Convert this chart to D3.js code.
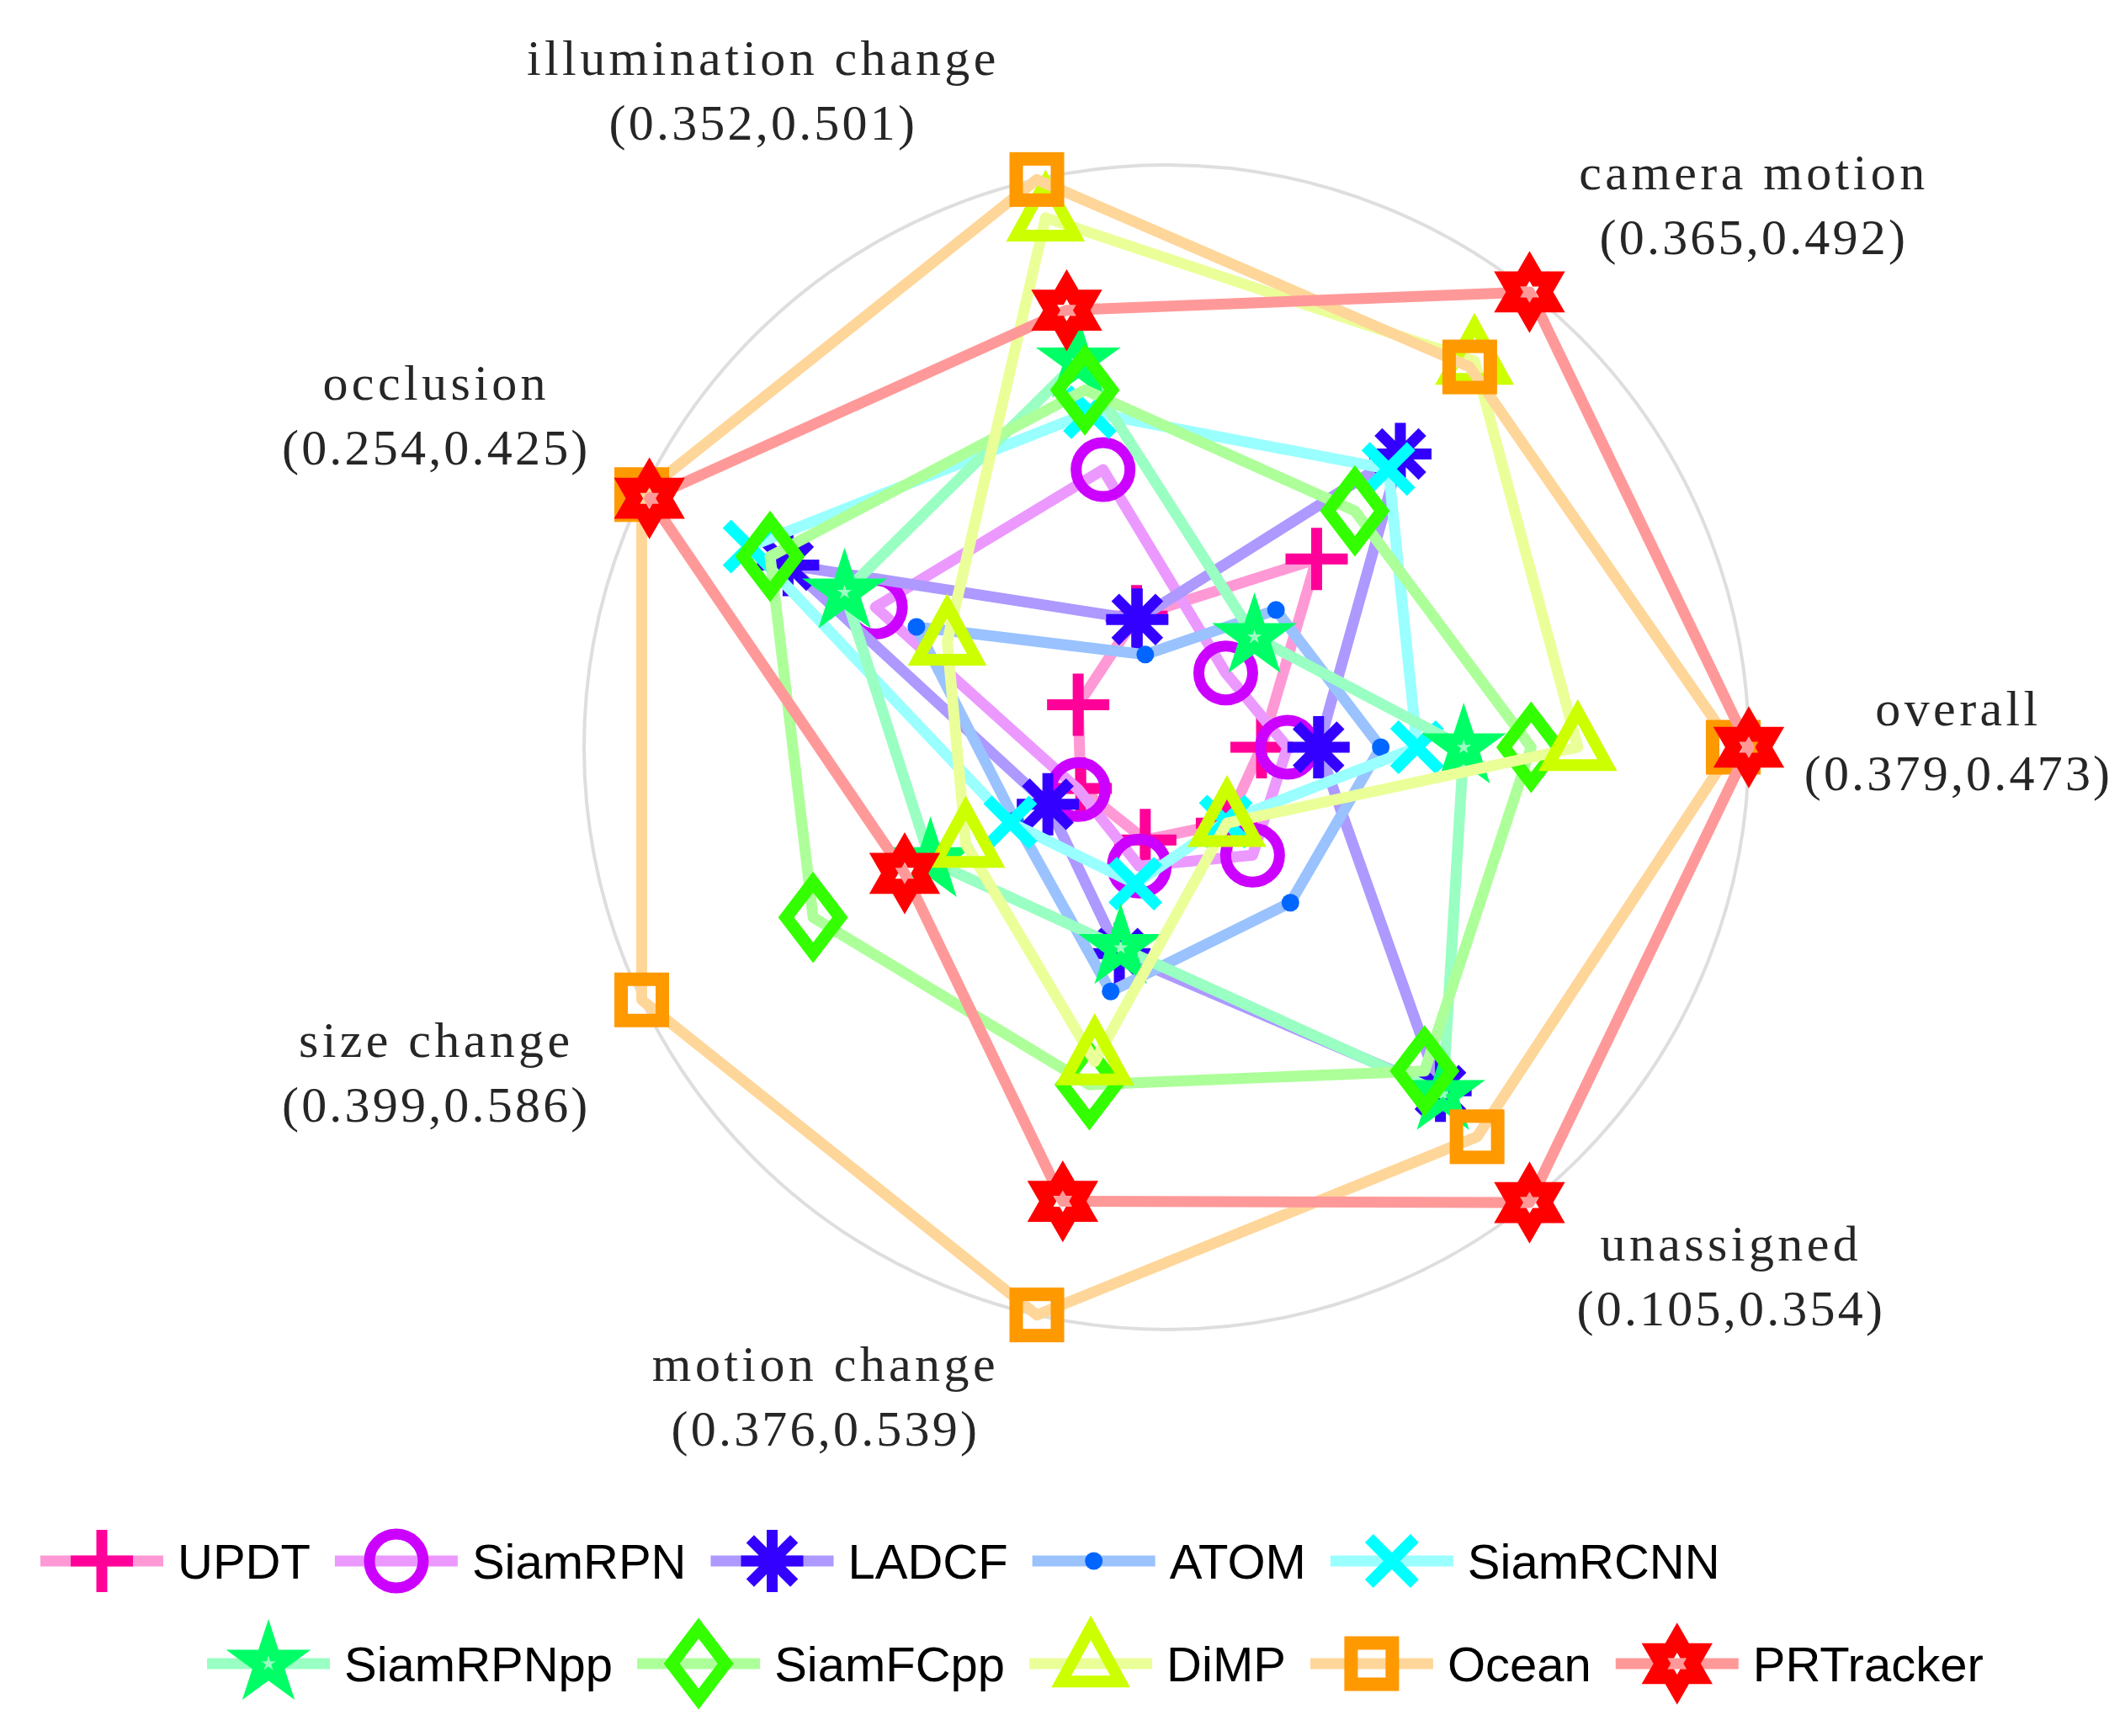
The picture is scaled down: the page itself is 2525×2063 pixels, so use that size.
<!DOCTYPE html>
<html><head><meta charset="utf-8">
<script src="https://cdn.jsdelivr.net/npm/d3@7"></script>
<style>html,body{margin:0;padding:0;background:#fff;} svg{display:block}</style>
</head><body>
<svg id="chart" width="2525" height="2063"></svg>
<script>
// ---------------- data ----------------
const axisNames = ["overall","camera motion","illumination change","occlusion","size change","motion change","unassigned"];
const axisMin   = [0.379, 0.365, 0.352, 0.254, 0.399, 0.376, 0.105];
const axisMax   = [0.473, 0.492, 0.501, 0.425, 0.586, 0.539, 0.354];

const trackers = ["UPDT","SiamRPN","LADCF","ATOM","SiamRCNN","SiamRPNpp","SiamFCpp","DiMP","Ocean","PRTracker"];
const markerShapes = ["plus","circle","asterisk","dot","cross","pentagram","diamond","triangle","square","hexagram"];
const markerColors = ["#ff0099","#cc00ff","#3300ff","#0066ff","#00ffff","#00ff66","#33ff00","#ccff00","#ff9900","#ff0000"];

const UPDT      = [0.379, 0.403, 0.364, 0.255, 0.399, 0.376, 0.106];
const SiamRPN   = [0.384, 0.365, 0.410, 0.334, 0.400, 0.385, 0.127];
const LADCF     = [0.390, 0.438, 0.363, 0.368, 0.413, 0.415, 0.281];
const ATOM      = [0.402, 0.386, 0.352, 0.318, 0.427, 0.428, 0.158];
const SiamRCNN  = [0.409, 0.433, 0.428, 0.383, 0.429, 0.391, 0.105];
const SiamRPNpp = [0.418, 0.377, 0.444, 0.346, 0.463, 0.413, 0.283];
const SiamFCpp  = [0.431, 0.419, 0.435, 0.375, 0.513, 0.460, 0.268];
const DiMP      = [0.440, 0.469, 0.489, 0.306, 0.448, 0.452, 0.106];
const Ocean     = [0.470, 0.467, 0.501, 0.425, 0.586, 0.539, 0.311];
const PRTracker = [0.473, 0.492, 0.460, 0.422, 0.474, 0.500, 0.354];
const seriesValues = [UPDT, SiamRPN, LADCF, ATOM, SiamRCNN, SiamRPNpp, SiamFCpp, DiMP, Ocean, PRTracker];

// ---------------- layout ----------------
const W = 2525, H = 2063;
const cx = 1386, cy = 888, R = 692, r0 = 113;
const lineW = 13;
const textColor = "#262626";
const svg = d3.select("#chart");

const nAx = axisNames.length;
const angle = d3.scaleLinear().domain([0, nAx]).range([0, 2 * Math.PI]);
const radial = axisNames.map((_, i) => d3.scaleLinear().domain([axisMin[i], axisMax[i]]).range([r0, R]));
const pt = (i, v) => {
  const a = angle(i), r = radial[i](v);
  return [cx + r * Math.cos(a), cy - r * Math.sin(a)];
};

// grid circle
svg.append("circle").attr("cx", cx).attr("cy", cy).attr("r", R)
  .attr("fill", "none").attr("stroke", "#dedede").attr("stroke-width", 4);

// marker path builders
function starPath(Ro, Ri, n) {
  let s = "";
  for (let k = 0; k < 2 * n; k++) {
    const a = -Math.PI / 2 + k * Math.PI / n;
    const r = k % 2 === 0 ? Ro : Ri;
    s += (k === 0 ? "M" : "L") + (r * Math.cos(a)).toFixed(2) + "," + (r * Math.sin(a)).toFixed(2);
  }
  return s + "Z";
}
function drawMarker(g, shape, color) {
  switch (shape) {
    case "plus":
      g.append("path").attr("d", "M-37,0H37M0,-37V37").attr("stroke", color)
        .attr("stroke-width", 13).attr("fill", "none"); break;
    case "circle":
      g.append("circle").attr("r", 32).attr("stroke", color).attr("stroke-width", 13).attr("fill", "none"); break;
    case "asterisk": {
      let d = "";
      [0, 45, 90, 135].forEach(deg => {
        const a = deg * Math.PI / 180, x = 37 * Math.cos(a), y = 37 * Math.sin(a);
        d += `M${-x},${-y}L${x},${y}`;
      });
      g.append("path").attr("d", d).attr("stroke", color).attr("stroke-width", 13).attr("fill", "none"); break;
    }
    case "dot":
      g.append("circle").attr("r", 10.5).attr("fill", color); break;
    case "cross":
      g.append("path").attr("d", "M-27,-27L27,27M-27,27L27,-27").attr("stroke", color)
        .attr("stroke-width", 14).attr("fill", "none"); break;
    case "pentagram":
      g.append("path").attr("d", starPath(53, 53 * 0.382, 5) + starPath(9, 9 * 0.382, 5))
        .attr("fill", color).attr("fill-rule", "evenodd"); break;
    case "diamond":
      g.append("path").attr("d", "M0,-42L32,0L0,42L-32,0Z").attr("stroke", color)
        .attr("stroke-width", 15).attr("stroke-linejoin", "miter").attr("fill", "none"); break;
    case "triangle":
      g.append("path").attr("d", "M0,-42.7L35,21.3L-35,21.3Z").attr("stroke", color)
        .attr("stroke-width", 14).attr("stroke-linejoin", "miter").attr("fill", "none"); break;
    case "square":
      g.append("rect").attr("x", -24.5).attr("y", -24.5).attr("width", 49).attr("height", 49)
        .attr("stroke", color).attr("stroke-width", 16).attr("fill", "none"); break;
    case "hexagram":
      g.append("path").attr("d", starPath(48.7, 48.7 / Math.sqrt(3), 6) + starPath(13, 13 / Math.sqrt(3), 6))
        .attr("fill", color).attr("fill-rule", "evenodd"); break;
  }
}
const lightColor = c => d3.interpolateRgb("#ffffff", c)(0.4);

// series
const lineGen = d3.line().curve(d3.curveLinearClosed);
trackers.forEach((name, s) => {
  const g = svg.append("g").attr("class", "series");
  const pts = seriesValues[s].map((v, i) => pt(i, v));
  g.append("path").attr("d", lineGen(pts)).attr("fill", "none")
    .attr("stroke", lightColor(markerColors[s])).attr("stroke-width", lineW)
    .attr("stroke-linejoin", "round");
  pts.forEach(p => {
    const m = g.append("g").attr("transform", `translate(${p[0]},${p[1]})`);
    drawMarker(m, markerShapes[s], markerColors[s]);
  });
});

// axis labels
const labelR = 760;
const labelOffset = [[181, -26.5], [224, -69], [-310, -58.5], [-183, -83], [-183, 38], [-236, 12], [197, 16]];
axisNames.forEach((name, i) => {
  const a = angle(i);
  const x = cx + labelR * Math.cos(a) + labelOffset[i][0];
  const y = cy - labelR * Math.sin(a) + labelOffset[i][1];
  const t = svg.append("text").attr("text-anchor", "middle")
    .attr("font-family", "'Liberation Serif', 'Times New Roman', serif")
    .attr("font-size", 60).attr("fill", textColor);
  t.append("tspan").attr("x", x).attr("y", y).attr("letter-spacing", 4.4).text(name);
  t.append("tspan").attr("x", x).attr("y", y + 77).attr("letter-spacing", 3.2)
    .text(`(${axisMin[i].toFixed(3)},${axisMax[i].toFixed(3)})`);
});

// legend
const legendRows = [[0, 1, 2, 3, 4], [5, 6, 7, 8, 9]];
const rowStart = [48, 246], rowY = [1855, 1977];
const sampleLen = 146, textGap = 17, itemGap = 29;
legendRows.forEach((row, ri) => {
  let x = rowStart[ri];
  const y = rowY[ri];
  row.forEach(s => {
    const g = svg.append("g");
    g.append("line").attr("x1", x).attr("x2", x + sampleLen).attr("y1", y).attr("y2", y)
      .attr("stroke", lightColor(markerColors[s])).attr("stroke-width", lineW);
    const m = g.append("g").attr("transform", `translate(${x + sampleLen / 2},${y})`);
    drawMarker(m, markerShapes[s], markerColors[s]);
    const t = g.append("text").attr("x", x + sampleLen + textGap).attr("y", y + 21)
      .attr("font-family", "'Liberation Sans', Arial, Helvetica, sans-serif")
      .attr("font-size", 58).attr("fill", "#000").text(trackers[s]);
    x = x + sampleLen + textGap + t.node().getComputedTextLength() + itemGap;
  });
});
</script>
</body></html>
